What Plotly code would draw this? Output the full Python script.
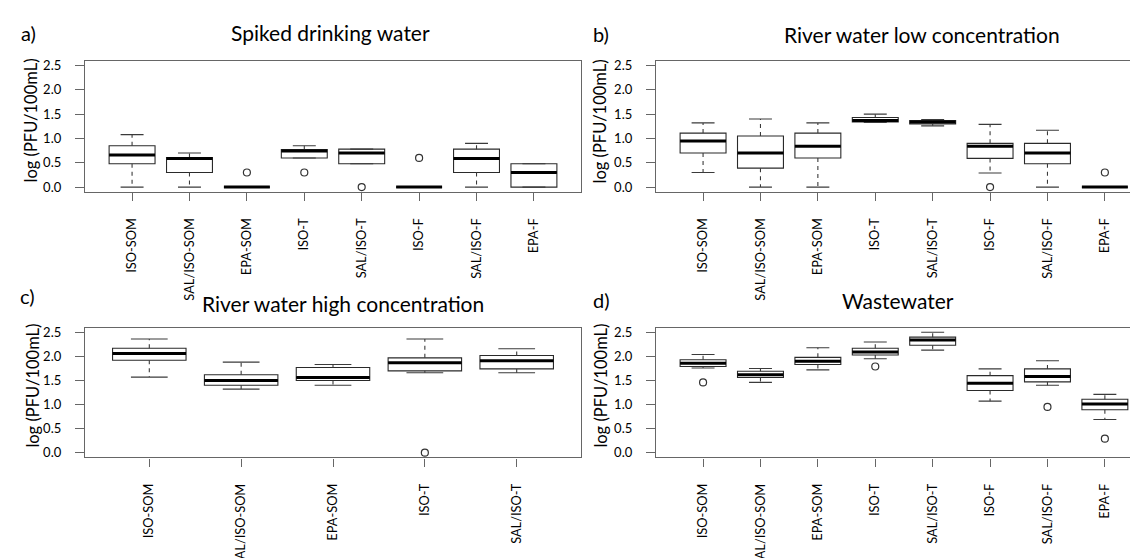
import plotly.graph_objects as go

# ---------------- data ----------------
cats8 = ["ISO-SOM", "SAL/ISO-SOM", "EPA-SOM", "ISO-T", "SAL/ISO-T", "ISO-F", "SAL/ISO-F", "EPA-F"]
cats5 = ["ISO-SOM", "SAL/ISO-SOM", "EPA-SOM", "ISO-T", "SAL/ISO-T"]

# a) Spiked drinking water
a_lower  = [0.00, 0.00, 0.00, 0.60, 0.48, 0.00, 0.00, 0.00]
a_q1     = [0.48, 0.30, 0.00, 0.60, 0.48, 0.00, 0.30, 0.00]
a_median = [0.66, 0.59, 0.00, 0.74, 0.70, 0.00, 0.59, 0.30]
a_q3     = [0.85, 0.61, 0.00, 0.77, 0.78, 0.00, 0.78, 0.48]
a_upper  = [1.08, 0.70, 0.00, 0.85, 0.78, 0.00, 0.90, 0.48]
a_out_cat = ["EPA-SOM", "ISO-T", "SAL/ISO-T", "ISO-F"]
a_out_val = [0.30, 0.30, 0.00, 0.60]

# b) River water low concentration
b_lower  = [0.30, 0.00, 0.00, 1.33, 1.26, 0.29, 0.00, 0.00]
b_q1     = [0.70, 0.39, 0.60, 1.34, 1.30, 0.59, 0.48, 0.00]
b_median = [0.95, 0.70, 0.84, 1.37, 1.34, 0.84, 0.70, 0.00]
b_q3     = [1.11, 1.05, 1.11, 1.43, 1.37, 0.90, 0.90, 0.00]
b_upper  = [1.32, 1.40, 1.32, 1.50, 1.39, 1.29, 1.17, 0.00]
b_out_cat = ["ISO-F", "EPA-F"]
b_out_val = [0.00, 0.30]

# c) River water high concentration
c_lower  = [1.57, 1.32, 1.40, 1.66, 1.66]
c_q1     = [1.92, 1.40, 1.50, 1.70, 1.74]
c_median = [2.06, 1.50, 1.56, 1.87, 1.91]
c_q3     = [2.17, 1.62, 1.77, 1.97, 2.02]
c_upper  = [2.36, 1.88, 1.83, 2.36, 2.16]
c_out_cat = ["ISO-T"]
c_out_val = [0.00]

# d) Wastewater
d_lower  = [1.76, 1.46, 1.72, 1.95, 2.13, 1.07, 1.40, 0.69]
d_q1     = [1.79, 1.56, 1.83, 2.03, 2.23, 1.29, 1.47, 0.89]
d_median = [1.86, 1.62, 1.90, 2.09, 2.34, 1.44, 1.58, 1.01]
d_q3     = [1.93, 1.69, 1.98, 2.17, 2.40, 1.60, 1.74, 1.11]
d_upper  = [2.04, 1.75, 2.18, 2.30, 2.50, 1.74, 1.91, 1.21]
d_out_cat = ["ISO-SOM", "ISO-T", "SAL/ISO-F", "EPA-F"]
d_out_val = [1.46, 1.79, 0.95, 0.29]

panel_titles = ["Spiked drinking water", "River water low concentration",
                "River water high concentration", "Wastewater"]
panel_letters = ["a)", "b)", "c)", "d)"]
y_ticks = [0.0, 0.5, 1.0, 1.5, 2.0, 2.5]
y_label = "log (PFU/100mL)"

# ---------------- style ----------------
W, H = 1138, 558
FONT = "Lato"
BOX_LINE = "#2a2a2a"
FRAME = "#666666"
TXT = "#000000"
BOXW = 0.8
CAPW = 0.4

panels = [
    dict(cats=cats8, lo=a_lower, q1=a_q1, med=a_median, q3=a_q3, hi=a_upper, oc=a_out_cat, ov=a_out_val,
         px=(77, 573), py=(51.7, 188.4), xr=[0.18, 8.82], mirror_y=True),
    dict(cats=cats8, lo=b_lower, q1=b_q1, med=b_median, q3=b_q3, hi=b_upper, oc=b_out_cat, ov=b_out_val,
         px=(648, 1138), py=(51.7, 188.4), xr=[0.18, 0.18 + (1138 - 648) / 57.4], mirror_y=False),
    dict(cats=cats5, lo=c_lower, q1=c_q1, med=c_median, q3=c_q3, hi=c_upper, oc=c_out_cat, ov=c_out_val,
         px=(77, 573), py=(329.5, 464.8), xr=[0.3, 5.7], mirror_y=True),
    dict(cats=cats8, lo=d_lower, q1=d_q1, med=d_median, q3=d_q3, hi=d_upper, oc=d_out_cat, ov=d_out_val,
         px=(648, 1138), py=(329.5, 464.8), xr=[0.18, 0.18 + (1138 - 648) / 57.4], mirror_y=False),
]

fig = go.Figure()

for k, p in enumerate(panels):
    sfx = "" if k == 0 else str(k + 1)
    xa, ya = "x" + sfx, "y" + sfx
    pos = [i + 1 for i in range(len(p["cats"]))]

    # whiskers (dashed)
    wx, wy = [], []
    for xi, a, b, c, d in zip(pos, p["q3"], p["hi"], p["q1"], p["lo"]):
        wx += [xi, xi, None, xi, xi, None]
        wy += [a, b, None, c, d, None]
    fig.add_trace(go.Scatter(x=wx, y=wy, mode="lines", xaxis=xa, yaxis=ya,
                             line=dict(color="#3a3a3a", width=1.1, dash="4px,4px"),
                             hoverinfo="skip", showlegend=False))
    # caps
    cx, cy = [], []
    for xi, hi, lo in zip(pos, p["hi"], p["lo"]):
        cx += [xi - CAPW / 2, xi + CAPW / 2, None, xi - CAPW / 2, xi + CAPW / 2, None]
        cy += [hi, hi, None, lo, lo, None]
    fig.add_trace(go.Scatter(x=cx, y=cy, mode="lines", xaxis=xa, yaxis=ya,
                             line=dict(color="#3a3a3a", width=1.1),
                             hoverinfo="skip", showlegend=False))
    # boxes
    fig.add_trace(go.Box(x=pos, q1=p["q1"], median=p["med"], q3=p["q3"],
                         lowerfence=p["q1"], upperfence=p["q3"],
                         width=BOXW, whiskerwidth=0, boxpoints=False,
                         fillcolor="white", line=dict(color=BOX_LINE, width=1.1),
                         xaxis=xa, yaxis=ya, showlegend=False))
    # medians (thick)
    mx, my = [], []
    for xi, m in zip(pos, p["med"]):
        mx += [xi - BOXW / 2, xi + BOXW / 2, None]
        my += [m, m, None]
    fig.add_trace(go.Scatter(x=mx, y=my, mode="lines", xaxis=xa, yaxis=ya,
                             line=dict(color="black", width=3),
                             hoverinfo="skip", showlegend=False))
    # outliers
    ox = [p["cats"].index(c) + 1 for c in p["oc"]]
    fig.add_trace(go.Scatter(x=ox, y=p["ov"], mode="markers", xaxis=xa, yaxis=ya,
                             marker=dict(symbol="circle-open", size=7, color="#333333",
                                         line=dict(width=1.2)),
                             showlegend=False))

    xd = [p["px"][0] / W, p["px"][1] / W]
    yd = [1 - p["py"][1] / H, 1 - p["py"][0] / H]
    fig.layout["xaxis" + sfx] = dict(
        domain=xd, range=p["xr"], anchor=ya, tickmode="array", tickvals=pos,
        ticktext=p["cats"], tickangle=-90, ticks="outside", ticklen=8, tickcolor=FRAME,
        showline=True, linecolor=FRAME, linewidth=1.3, mirror=True,
        showgrid=False, zeroline=False, ticklabelstandoff=12,
        tickfont=dict(family=FONT, size=12.8, color=TXT))
    fig.layout["yaxis" + sfx] = dict(
        domain=yd, range=[-0.1, 2.6], anchor=xa, tickmode="array", tickvals=y_ticks,
        ticktext=["%.1f" % v for v in y_ticks], ticks="outside", ticklen=9, tickcolor=FRAME,
        showline=True, linecolor=FRAME, linewidth=1.3, mirror=p["mirror_y"],
        showgrid=False, zeroline=False, ticklabelstandoff=11,
        tickfont=dict(family=FONT, size=13, color=TXT))

# titles, letters and y labels
title_pos = [(322, 22), (914, 24), (335, 305), (890, 301)]
letter_pos = [(11, 23), (583, 24), (10, 297), (583, 301)]
ylab_pos = [(23, 114), (592, 115), (25, 390), (593, 390)]
ann = []
for t, (tx, ty) in zip(panel_titles, title_pos):
    ann.append(dict(text=t, x=tx / W, y=1 - ty / H, xref="paper", yref="paper",
                    xanchor="center", yanchor="middle", showarrow=False,
                    font=dict(family=FONT, size=21, color=TXT)))
for t, (tx, ty) in zip(panel_letters, letter_pos):
    ann.append(dict(text=t, x=tx / W, y=1 - ty / H, xref="paper", yref="paper",
                    xanchor="left", yanchor="middle", showarrow=False,
                    font=dict(family=FONT, size=20, color=TXT)))
for (tx, ty) in ylab_pos:
    ann.append(dict(text=y_label, x=tx / W, y=1 - ty / H, xref="paper", yref="paper",
                    xanchor="center", yanchor="middle", showarrow=False, textangle=-90,
                    font=dict(family=FONT, size=16.5, color=TXT)))

fig.update_layout(width=W, height=H, margin=dict(l=0, r=0, t=0, b=0),
                  paper_bgcolor="white", plot_bgcolor="white",
                  showlegend=False, annotations=ann,
                  font=dict(family=FONT))

fig.write_html("out.html")
